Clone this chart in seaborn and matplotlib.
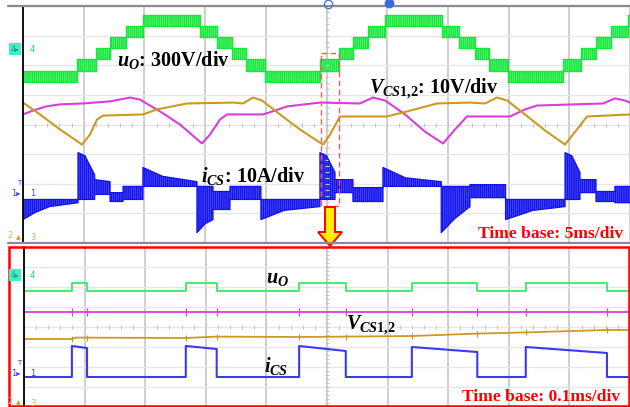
import numpy as np
import matplotlib
matplotlib.use('Agg')
import matplotlib.pyplot as plt
import seaborn as sns
from matplotlib.patches import Rectangle, Polygon

sns.set_style('white')
plt.rcParams['font.family'] = ['Liberation Serif', 'DejaVu Serif']
plt.rcParams['mathtext.fontset'] = 'custom'
plt.rcParams['mathtext.it'] = 'Liberation Serif:italic:bold'
plt.rcParams['mathtext.rm'] = 'Liberation Serif:bold'
plt.rcParams['mathtext.bf'] = 'Liberation Serif:bold'
plt.rcParams['hatch.linewidth'] = 1.1

W, H = 630, 407

# ---- top panel, 5 ms/div (time in ms, vertical in div) ----
green_levels = [1.42, 1.79, 2.20, 2.57, 2.94, 3.31, 3.68]
green_edges = [0, 4.45, 6.0, 7.2, 8.45, 9.85, 14.55, 15.95, 17.2, 18.4, 19.95,
               24.45, 26.0, 27.2, 28.45, 29.85, 34.55, 35.95, 37.2, 38.4, 39.95,
               44.45, 46.0, 47.2, 48.45, 49.85, 50]
green_band = [0, 1, 2, 3, 4, 5, 4, 3, 2, 1, 0, 1, 2, 3, 4, 5, 4, 3, 2, 1, 0,
              1, 2, 3, 4, 5]

mag_t = [0, 0.82, 1.9, 3.05, 4.94, 7.17, 8.81, 9.64, 11.29, 12.93, 14.17, 14.74,
         15.40, 16.23, 16.80, 19.77, 20.76, 21.75, 24.46, 27.76, 28.83, 29.82,
         31.47, 33.11, 34.60, 35.58, 36.57, 40.12, 41.35, 42.34, 47.78, 48.76,
         49.59, 50]
mag_y = [0.34, 0.47, 0.61, 0.68, 0.71, 0.78, 0.91, 0.84, 0.44, 0.0, -0.44, -0.64,
         -0.34, 0.17, 0.34, 0.34, 0.47, 0.61, 0.74, 0.71, 0.91, 0.81,
         0.34, -0.24, -0.64, -0.17, 0.27, 0.27, 0.51, 0.64, 0.71, 0.88,
         0.81, 0.74]

gold_t = [0, 1.40, 3.05, 4.28, 4.86, 5.52, 6.10, 6.59, 9.88, 11.04, 13.51, 17.30,
          18.12, 18.95, 19.69, 21.17, 22.82, 24.71, 25.29, 26.11, 29.98, 32.29,
          34.10, 36.82, 38.06, 39.04, 39.87, 41.35, 43.00, 44.65, 45.30, 46.46, 50]
gold_y = [0.74, 0.34, -0.17, -0.51, -0.68, -0.34, 0.17, 0.30, 0.34, 0.51, 0.71, 0.74,
          0.71, 0.91, 0.81, 0.34, -0.17, -0.68, -0.34, 0.27, 0.27, 0.51,
          0.71, 0.74, 0.71, 0.91, 0.81, 0.34, -0.20, -0.68, -0.34, 0.27, 0.34]

blue_t = [0, 1.0, 2.2, 4.53, 4.53, 5.1, 5.9, 5.9, 7.17, 7.17, 8.24, 8.24, 9.88,
          9.88, 11.5, 14.33, 14.33, 15.0, 15.65, 15.65, 17.05, 17.05, 19.6,
          19.6, 21.5, 24.46, 24.46, 25.0, 25.7, 25.7, 27.18, 27.18, 29.65,
          29.65, 31.5, 34.45, 34.45, 35.5, 36.82, 36.82, 39.75, 39.75, 42.0,
          44.65, 44.65, 45.2, 45.88, 45.88, 47.2, 47.2, 48.76, 48.76, 50]
blue_hi = [-2.53, -2.53, -2.53, -2.53, -0.95, -1.05, -1.7, -1.86, -1.93, -2.30, -2.30, -2.09, -2.09,
           -1.45, -1.75, -1.93, -2.09, -2.09, -2.09, -2.26, -2.26, -2.09, -2.09,
           -2.53, -2.53, -2.53, -0.95, -1.05, -1.62, -1.86, -1.86, -2.13, -2.13,
           -1.45, -1.8, -1.93, -2.09, -2.09, -2.09, -2.03, -2.03, -2.53, -2.53,
           -2.53, -0.95, -1.05, -1.62, -1.86, -1.86, -2.26, -2.26, -2.09, -2.09]
blue_lo = [-3.21, -2.97, -2.77, -2.64, -2.53, -2.53, -2.53, -2.36, -2.36, -2.60, -2.60, -2.53, -2.53,
           -2.09, -2.09, -2.09, -3.65, -3.35, -3.21, -2.87, -2.87, -2.53, -2.53,
           -3.21, -2.90, -2.77, -2.53, -2.53, -2.53, -2.30, -2.30, -2.60, -2.60,
           -2.09, -2.09, -2.09, -3.65, -3.20, -2.77, -2.47, -2.47, -3.21, -2.90,
           -2.77, -2.53, -2.53, -2.53, -2.30, -2.30, -2.60, -2.60, -2.64, -2.64]

# ---- bottom panel, 0.1 ms/div ----
pulse_on = [0.079, 0.267, 0.454, 0.640, 0.828]
pulse_off = [0.104, 0.318, 0.531, 0.748, 0.962]
uo_low, uo_high = 1.8, 2.2
ics_low = -2.5
ics_top_start = [-0.95, -0.95, -0.95, -1.0, -1.0]
ics_top_end = [-1.05, -1.1, -1.2, -1.25, -1.3]
vmag_level = 0.75
vgold_t = [0, 0.079, 0.085, 0.267, 0.318, 0.454, 0.531, 0.640, 0.748, 0.828, 0.962, 1.0]
vgold_y = [-0.6, -0.6, -0.53, -0.55, -0.48, -0.5, -0.48, -0.45, -0.33, -0.27, -0.15, -0.15]

C_GREEN = '#14e83a'
C_MAG = '#d93ed9'
C_GOLD = '#cc9a22'
C_BLUE = '#1212ee'


def scope_axes(ax, tmax):
    ax.set_xlim(0, tmax)
    ax.set_ylim(-4, 4)
    ax.set_xticks(np.linspace(0, tmax, 11))
    ax.set_yticks(np.arange(-4, 5, 1))
    ax.tick_params(length=0, labelleft=False, labelbottom=False)
    ax.grid(axis='x', color='#cfcfcf', lw=1.4)
    ax.grid(axis='y', color='#e6e6e6', lw=1.0)
    for s in ['top', 'right', 'bottom']:
        ax.spines[s].set_visible(False)
    ax.spines['left'].set_color('black')
    ax.spines['left'].set_linewidth(1.3)
    small = np.linspace(0, tmax, 51)
    ax.plot(small, np.zeros_like(small), ls='none', marker='|', ms=3,
            color='#c4c4c4', mew=0.8)
    ax.plot(np.full(41, tmax / 2), np.linspace(-4, 4, 41), ls='none', marker='_',
            ms=3, color='#c4c4c4', mew=0.8)


fig = plt.figure(figsize=(W / 100, H / 100), dpi=100)

# top axes
ax1 = fig.add_axes([23 / W, (H - 243) / H, 607 / W, 237 / H])
scope_axes(ax1, 50)
lv = np.array(green_levels)
gb = np.array(green_band + [green_band[-1]])
ax1.fill_between(green_edges, lv[gb], lv[gb + 1], step='post', facecolor='#8ef29c',
                 edgecolor=C_GREEN, hatch='||||||||', linewidth=0)
ax1.step(green_edges, lv[gb], where='post', color=C_GREEN, lw=1.0)
ax1.step(green_edges, lv[gb + 1], where='post', color=C_GREEN, lw=1.0)

sns.lineplot(x=mag_t, y=mag_y, ax=ax1, color=C_MAG, lw=1.5, estimator=None, sort=False)
sns.lineplot(x=gold_t, y=gold_y, ax=ax1, color=C_GOLD, lw=1.5, estimator=None, sort=False)

ax1.fill_between(blue_t, blue_lo, blue_hi, facecolor='#6a6af5', edgecolor=C_BLUE,
                 hatch='||||||||', linewidth=0)
ax1.plot(blue_t, blue_hi, color=C_BLUE, lw=0.9)
ax1.plot(blue_t, blue_lo, color=C_BLUE, lw=0.9)

# bottom axes
ax2 = fig.add_axes([24 / W, 0, 606 / W, 160 / H])
scope_axes(ax2, 1.0)

edges = [0.0]
uo = [uo_low]
ics = [ics_low]
for on, off, a, b in zip(pulse_on, pulse_off, ics_top_start, ics_top_end):
    edges += [on, on, off, off]
    uo += [uo_low, uo_high, uo_high, uo_low]
    ics += [ics_low, a, b, ics_low]
edges.append(1.0)
uo.append(uo_low)
ics.append(ics_low)
sns.lineplot(x=edges, y=uo, ax=ax2, color='#3ee66a', lw=1.3, estimator=None, sort=False)
sns.lineplot(x=edges, y=ics, ax=ax2, color='#3a3af0', lw=1.5, estimator=None, sort=False)
sns.lineplot(x=[0, 1], y=[vmag_level, vmag_level], ax=ax2, color=C_MAG, lw=1.3,
             estimator=None)
ax2.vlines(pulse_on + pulse_off, vmag_level - 0.2, vmag_level + 0.2, color=C_MAG, lw=0.9)
sns.lineplot(x=vgold_t, y=vgold_y, ax=ax2, color=C_GOLD, lw=1.3, estimator=None, sort=False)
gold_at_edges = np.interp(pulse_on + pulse_off, vgold_t, vgold_y)
ax2.vlines(pulse_on + pulse_off, gold_at_edges - 0.15, gold_at_edges + 0.15,
           color=C_GOLD, lw=0.9)

# overlay in pixel coordinates for frame, markers and labels
ov = fig.add_axes([0, 0, 1, 1])
ov.set_xlim(0, W)
ov.set_ylim(H, 0)
ov.axis('off')
ov.patch.set_alpha(0)

ov.plot([8, 630], [6, 6], color='#8a8a8a', lw=1.6)
ov.plot([8, 630], [243, 243], color='#8a8a8a', lw=1.6)
ov.add_patch(Rectangle((9, 247), 620, 159, fill=False, edgecolor='red', lw=1.8))
ov.add_patch(Rectangle((321, 53), 18, 153, fill=False, edgecolor='#ff5a5a',
                       lw=1.0, ls=(0, (4, 2.5))))
ov.add_patch(Polygon([(325, 207), (335, 207), (335, 232), (342, 232), (330, 246),
                      (318, 232), (325, 232)], closed=True, facecolor='#ffee00',
                     edgecolor='red', lw=1.4))

# channel markers
for y4, y1, y3 in [(49, 193, 238), (275, 373, 403)]:
    ov.text(15, y4, '4▸', fontsize=5.5, color='#1aa080', ha='center', va='center',
            family='DejaVu Sans',
            bbox=dict(boxstyle='square,pad=0.15', facecolor='#40f0c8', edgecolor='none'))
    ov.text(30, y4, '4', fontsize=6, color=C_GREEN, va='center', family='DejaVu Sans')
    ov.text(16, y1, '1▸', fontsize=6, color='#3a3af0', ha='center', va='center',
            family='DejaVu Sans')
    ov.text(19, y1 - 10, 'T', fontsize=5, color='#3a3af0', ha='center', va='center',
            family='DejaVu Sans')
    ov.text(30, y1, '1', fontsize=6, color='#3a3af0', va='center', family='DejaVu Sans')
    ov.text(10, y3 - 2, '2', fontsize=6, color='#d8b060', ha='center', va='center',
            family='DejaVu Sans')
    ov.text(18, y3, '▲', fontsize=4.5, color=C_GOLD, ha='center', va='center',
            family='DejaVu Sans')
    ov.text(30, y3, '3', fontsize=6, color='#d8b060', va='center', family='DejaVu Sans')
ov.plot(328, 4, marker='o', ms=6, mfc='none', mec='#4a7ae0', mew=1.0)
ov.plot(389, 3, marker='o', ms=6, color='#3a6ae0')

lab = dict(color='black', fontsize=14.5, fontweight='bold', ha='left', va='baseline')
ov.text(117, 66, r'$u_O$: 300V/div', **lab)
ov.text(369, 94, r'$V_{\mathit{CS1{,}2}}$: 10V/div', **lab)
ov.text(201, 182, r'$i_{\mathit{CS}}$: 10A/div', **lab)
ov.text(266, 283, r'$u_O$', **lab)
ov.text(264, 372, r'$i_{\mathit{CS}}$', **lab)
ov.text(346, 330, r'$V_{\mathit{CS1{,}2}}$', **lab)
red = dict(color='red', fontsize=12.6, fontweight='bold', ha='left', va='baseline')
ov.text(478, 238, 'Time base: 5ms/div', **red)
ov.text(462, 401, 'Time base: 0.1ms/div', **red)

fig.savefig('out.png', dpi=100, facecolor='white')
